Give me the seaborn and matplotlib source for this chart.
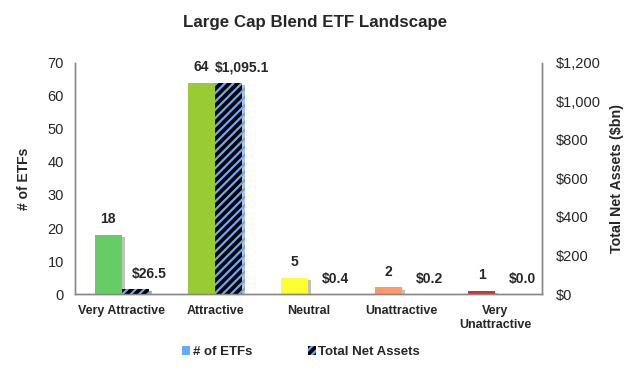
"""Large Cap Blend ETF landscape: count of ETFs and total net assets by rating."""

import numpy as np
import pandas as pd
import matplotlib.pyplot as plt
import matplotlib.patheffects as pe
from matplotlib.patches import Patch
import seaborn as sns

# Data
categories = ['Very Attractive', 'Attractive', 'Neutral', 'Unattractive', 'Very\nUnattractive']
num_etfs = [18, 64, 5, 2, 1]
net_assets = [26.5, 1095.1, 0.4, 0.2, 0.0]
bar_colors = ['#66CC66', '#99CC33', '#FFFF33', '#FF9966', '#CC3333']
series = ['# of ETFs', 'Total Net Assets']

sns.set_style('white')
plt.rcParams['font.family'] = ['Liberation Sans', 'DejaVu Sans']
plt.rcParams['hatch.linewidth'] = 1.6

df = pd.DataFrame({
    'category': categories * 2,
    'series': [series[0]] * 5 + [series[1]] * 5,
    'etfs': num_etfs + [np.nan] * 5,
    'assets': [np.nan] * 5 + net_assets,
})

fig = plt.figure(figsize=(6.3, 3.68), dpi=100)
ax1 = fig.add_axes([0.119, 0.201, 0.741, 0.628])
ax2 = ax1.twinx()

shadow = [pe.SimplePatchShadow(offset=(2.2, -1.5), shadow_rgbFace='#999999', alpha=0.6), pe.Normal()]

sns.barplot(data=df, x='category', y='etfs', hue='series', hue_order=series,
            order=categories, width=0.58, ax=ax1, legend=False, errorbar=None)
sns.barplot(data=df, x='category', y='assets', hue='series', hue_order=series,
            order=categories, width=0.58, ax=ax2, legend=False, errorbar=None)

# Style the count bars and label them
bars1 = list(ax1.patches)[:5]
for bar, color, val in zip(bars1, bar_colors, num_etfs):
    bar.set_facecolor(color)
    bar.set_edgecolor('none')
    bar.set_path_effects(shadow)
    ax1.annotate(f'{val}', (bar.get_x() + bar.get_width() / 2, val),
                 xytext=(0, 6), textcoords='offset points',
                 ha='center', va='bottom', fontsize=10, fontweight='bold')

# Style the net asset bars (black with blue stripes) and label them
bars2 = list(ax2.patches)[-5:]
for bar, val in zip(bars2, net_assets):
    bar.set_facecolor('black')
    bar.set_edgecolor('#66AAFF')
    bar.set_linewidth(0)
    bar.set_hatch('////')
    bar.set_path_effects(shadow)
    ax2.annotate(f'${val:,.1f}', (bar.get_x() + bar.get_width() / 2, val),
                 xytext=(10, 6), textcoords='offset points',
                 ha='center', va='bottom', fontsize=10, fontweight='bold')

# Axes
ax1.set_ylim(0, 70)
ax1.set_yticks(range(0, 71, 10))
ax2.set_ylim(0, 1200)
ax2.set_yticks(range(0, 1201, 200))
ax2.set_yticklabels([f'${v:,}' for v in range(0, 1201, 200)])
ax1.set_xlim(-0.5, 4.5)

ax1.set_xlabel('')
ax1.set_ylabel('# of ETFs', fontsize=10, fontweight='bold', labelpad=12)
ax2.set_ylabel('Total Net Assets ($bn)', fontsize=10.3, fontweight='bold', labelpad=7)
ax1.set_xticks(range(5))
ax1.set_xticklabels(categories, fontsize=9, fontweight='bold')
ax1.set_xticks(np.arange(-0.5, 5, 1), minor=True)
ax1.tick_params(axis='x', which='major', length=0, pad=8)
ax1.tick_params(axis='x', which='minor', length=4, color='#888888')
ax1.tick_params(axis='y', length=0, labelsize=10.5, pad=8)
ax2.tick_params(axis='y', length=0, labelsize=10.5, pad=10)

for ax in (ax1, ax2):
    ax.spines['top'].set_visible(False)
    for s in ('left', 'right', 'bottom'):
        ax.spines[s].set_color('#888888')
        ax.spines[s].set_linewidth(1)

fig.suptitle('Large Cap Blend ETF Landscape', x=0.5, y=0.96, fontsize=12.2, fontweight='bold')

handles = [Patch(facecolor='#66AAFF', edgecolor='none'),
           Patch(facecolor='black', edgecolor='#66AAFF', linewidth=0, hatch='////')]
fig.legend(handles, series, loc='center', bbox_to_anchor=(0.478, 0.043), ncol=2,
           frameon=False, handlelength=0.6, handleheight=0.6, handletextpad=0.2,
           columnspacing=4.2, prop={'weight': 'bold', 'size': 9.5})

plt.savefig('out.png', dpi=100)
plt.close()
